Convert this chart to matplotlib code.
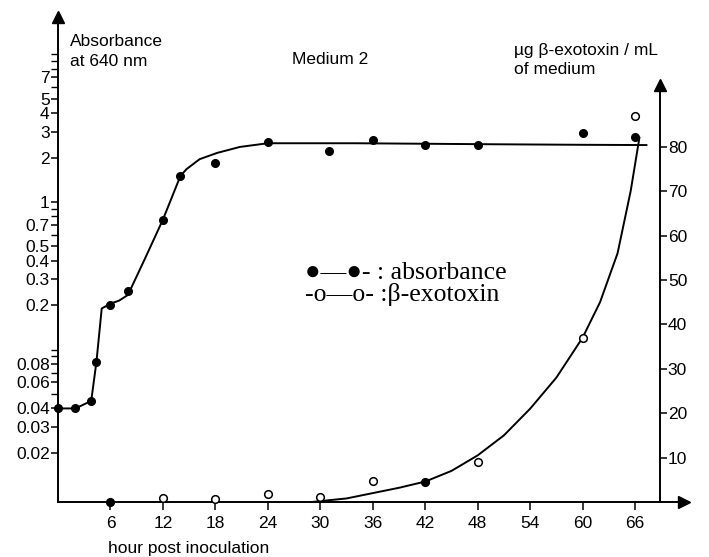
import numpy as np
import matplotlib
matplotlib.use("Agg")
import matplotlib.pyplot as plt
from matplotlib.ticker import FixedLocator, FixedFormatter, NullFormatter

# measured points
hours_abs = [0, 2, 3.8, 4.4, 6, 8, 12, 14, 18, 24, 31, 36, 42, 48, 60, 66]
absorbance = [0.04, 0.04, 0.045, 0.083, 0.2, 0.25, 0.75, 1.5, 1.85, 2.55, 2.2, 2.65, 2.45, 2.45, 2.95, 2.75]

hours_tox = [6, 12, 18, 24, 30, 36, 42, 48, 60, 66]
exotoxin = [0, 1.0, 0.7, 1.7, 1.1, 4.7, 4.6, 9.0, 37, 87]
tox_filled = [True, False, False, False, False, False, True, False, False, False]

# hand-drawn fitted curves
abs_curve_h = [0, 2, 3.8, 4.4, 5.0, 6, 7, 8, 10, 12, 14, 14.7, 16.2, 18.2, 20.8, 24, 34, 50, 60, 67.3]
abs_curve_v = [0.04, 0.04, 0.045, 0.083, 0.19, 0.205, 0.215, 0.235, 0.42, 0.76, 1.5, 1.67, 1.95, 2.15, 2.36, 2.5, 2.5, 2.46, 2.44, 2.43]

tox_curve_h = [29, 33, 36, 39, 42, 45, 48, 51, 54, 57, 60, 62, 64, 65.5, 66.5]
tox_curve_v = [0, 0.8, 2.0, 3.2, 4.6, 7.0, 10.5, 15, 21, 28, 37, 45, 56, 70, 82]

x_ticks = [6, 12, 18, 24, 30, 36, 42, 48, 54, 60, 66]
abs_major = [0.02, 0.03, 0.04, 0.06, 0.08, 0.2, 0.3, 0.4, 0.5, 0.7, 1, 2, 3, 4, 5, 7]
abs_major_labels = ["0.02", "0.03", "0.04", "0.06", "0.08", "0.2", "0.3", "0.4", "0.5", "0.7",
                    "1", "2", "3", "4", "5", "7"]
abs_minor = [0.05, 0.07, 0.09, 0.1, 0.6, 0.8, 0.9, 6, 8, 9, 10]
tox_ticks = [10, 20, 30, 40, 50, 60, 70, 80]

W, H = 709, 557
SANS = ["Liberation Sans", "DejaVu Sans"]
SERIF = ["Liberation Serif", "DejaVu Serif", "DejaVu Sans"]
plt.rcParams["font.family"] = SANS
FS = 12.5

fig = plt.figure(figsize=(W / 100, H / 100), dpi=100)

def px(x, y):
    return x / W, 1 - y / H

left, right, top, bottom = 58, 684, 17, 502
ax = fig.add_axes([left / W, 1 - bottom / H, (right - left) / W, (bottom - top) / H])
ax.set_yscale("log")
ax.set_xlim(0, 71.6)
ax.set_ylim(0.0093, 17.9)

x_right_axis = 68.8
ax2 = ax.twinx()
ax2.set_ylim(0, 109.2)

for s in ["top", "right"]:
    ax.spines[s].set_visible(False)
for s in ["top", "left", "bottom"]:
    ax2.spines[s].set_visible(False)
ax2.spines["right"].set_position(("data", x_right_axis))
ax2.spines["right"].set_bounds(0, 94)
for sp in [ax.spines["left"], ax.spines["bottom"], ax2.spines["right"]]:
    sp.set_linewidth(1.4)

# arrow heads
ax.plot([0], [1], marker="^", ms=8, color="k", transform=ax.transAxes, clip_on=False)
ax.plot([1], [0], marker=">", ms=8, color="k", transform=ax.transAxes, clip_on=False)
ax2.plot([x_right_axis], [94], marker="^", ms=8, color="k", clip_on=False)

# ticks
ax.set_xticks(x_ticks)
ax.set_xticklabels([str(t) for t in x_ticks])
ax.tick_params(axis="x", direction="out", length=6, width=1.1, pad=4, labelsize=FS)
ax.yaxis.set_major_locator(FixedLocator(abs_major))
ax.yaxis.set_major_formatter(FixedFormatter(abs_major_labels))
ax.yaxis.set_minor_locator(FixedLocator(abs_minor))
ax.yaxis.set_minor_formatter(NullFormatter())
ax.tick_params(axis="y", which="major", direction="out", length=5, width=1.1, pad=1, labelsize=FS)
ax.tick_params(axis="y", which="minor", direction="out", length=5, width=1.0)

ax2.set_yticks(tox_ticks)
ax2.set_yticklabels([str(t) for t in tox_ticks])
ax2.tick_params(axis="y", direction="out", length=5, width=1.1, pad=1, labelsize=FS)

# curves and points
ax.plot(abs_curve_h, abs_curve_v, color="k", lw=1.4, clip_on=False)
ax.plot(hours_abs, absorbance, "o", color="k", ms=5.5, clip_on=False)

ax2.plot(tox_curve_h, tox_curve_v, color="k", lw=1.4, clip_on=False)
for h, v, f in zip(hours_tox, exotoxin, tox_filled):
    ax2.plot(h, v, "o", ms=5.5, mec="k", mfc="k" if f else "white", mew=1.1, clip_on=False)

# texts
fig.text(*px(70, 42), "Absorbance", fontsize=FS, va="center", ha="left")
fig.text(*px(70, 62), "at 640 nm", fontsize=FS, va="center", ha="left")
fig.text(*px(330, 60), "Medium 2", fontsize=FS, va="center", ha="center")
fig.text(*px(514, 50), "µg β-exotoxin / mL", fontsize=FS, va="center", ha="left")
fig.text(*px(514, 70), "of medium", fontsize=FS, va="center", ha="left")
fig.text(*px(108, 548), "hour post inoculation", fontsize=FS, va="center", ha="left")

fig.text(*px(305, 273), "●—●- : absorbance", fontsize=18.5, va="center", ha="left", family=SERIF)
fig.text(*px(305, 295), "-o—o- :β-exotoxin", fontsize=18.5, va="center", ha="left", family=SERIF)

fig.savefig("out.png", dpi=100)
